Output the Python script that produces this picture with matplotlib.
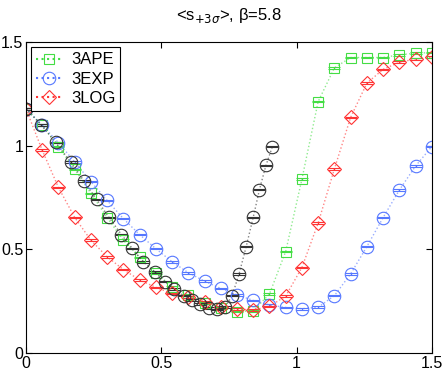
import matplotlib
matplotlib.use("Agg")
import matplotlib.pyplot as plt
from matplotlib.lines import Line2D

plt.rcParams['font.family'] = ['Liberation Sans', 'DejaVu Sans']

# beta values on the common grid
x = [0.00, 0.06, 0.12, 0.18, 0.24, 0.30, 0.36, 0.42, 0.48, 0.54, 0.60, 0.66, 0.72,
     0.78, 0.84, 0.90, 0.96, 1.02, 1.08, 1.14, 1.20, 1.26, 1.32, 1.38, 1.44, 1.50]

ape = [1.18, 1.10, 0.997, 0.887, 0.771, 0.654, 0.545, 0.462, 0.388, 0.320, 0.280, 0.243, 0.219,
       0.200, 0.204, 0.285, 0.490, 0.840, 1.214, 1.377, 1.427, 1.427, 1.427, 1.440, 1.448, 1.451]
exp_ = [1.18, 1.10, 1.016, 0.923, 0.828, 0.737, 0.649, 0.572, 0.504, 0.441, 0.388, 0.347, 0.312,
        0.281, 0.254, 0.232, 0.220, 0.214, 0.221, 0.277, 0.382, 0.514, 0.654, 0.787, 0.903, 0.997]
log_ = [1.18, 0.98, 0.800, 0.655, 0.545, 0.465, 0.403, 0.353, 0.317, 0.288, 0.272, 0.248, 0.222,
        0.212, 0.208, 0.225, 0.275, 0.413, 0.628, 0.889, 1.138, 1.303, 1.370, 1.404, 1.420, 1.428]

# unlabelled black series (own x positions)
xk = [0.000, 0.057, 0.110, 0.165, 0.214, 0.261, 0.307, 0.353, 0.393, 0.433, 0.477, 0.513, 0.547,
      0.584, 0.614, 0.645, 0.677, 0.707, 0.735, 0.762, 0.788, 0.814, 0.840, 0.863, 0.887, 0.911]
yk = [1.18, 1.10, 1.017, 0.924, 0.832, 0.742, 0.655, 0.572, 0.505, 0.441, 0.390, 0.345, 0.310,
      0.277, 0.256, 0.237, 0.219, 0.211, 0.221, 0.277, 0.383, 0.514, 0.655, 0.789, 0.906, 0.997]

err = 0.004

fig = plt.figure(figsize=(4.47, 3.72), dpi=100)
ax = fig.add_axes([0.058, 0.051, 0.908, 0.835])

series = [
    (x, ape, '#44dd44', 's', 7.0, '3APE'),
    (x, exp_, '#5577ff', 'o', 9.0, '3EXP'),
    (x, log_, '#ff3333', 'D', 7.0, '3LOG'),
    (xk, yk, '#333333', 'o', 9.0, None),
]

handles = []
for xs, ys, c, m, ms, lab in series:
    ax.plot(xs, ys, ':', color=c, lw=1.0, alpha=0.6)
    ax.errorbar(xs, ys, yerr=err, fmt=m, mfc='none', mec=c, ms=ms, mew=0.8,
                ecolor=c, elinewidth=1.0, capsize=4.5, capthick=1.0)
    if lab:
        handles.append(Line2D([], [], ls=':', color=c, marker=m, mfc='none', mec=c,
                              ms=ms, mew=0.8, label=lab))

ax.set_xlim(0, 1.5)
ax.set_ylim(0, 1.5)
ax.set_xticks([0, 0.5, 1, 1.5])
ax.set_xticklabels(['0', '0.5', '1', '1.5'])
ax.set_yticks([0, 0.5, 1, 1.5])
ax.set_yticklabels(['0', '0.5', '1', '1.5'])
ax.tick_params(direction='in', top=True, right=True, labelsize=11.5, length=4, pad=2)

ax.set_title(r'<s$_{+3\sigma}$>, β=5.8', fontsize=12, pad=16)

leg = ax.legend(handles=handles, loc='upper left', fontsize=12, fancybox=False,
                edgecolor='black', framealpha=1, borderaxespad=0.3, borderpad=0.3,
                handlelength=1.6, handletextpad=0.5, labelspacing=0.25)
leg.get_frame().set_linewidth(0.8)

fig.savefig('out.png', dpi=100)
